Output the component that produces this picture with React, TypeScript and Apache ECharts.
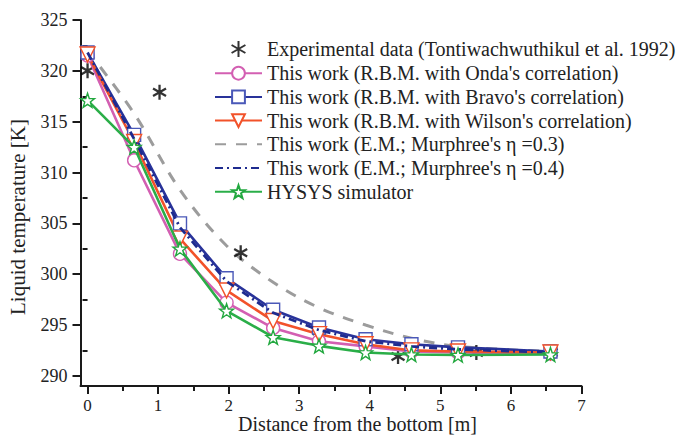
import React, { useEffect, useRef } from "react";
import * as echarts from "echarts";

const xPos = [0, 0.66, 1.31, 1.97, 2.63, 3.28, 3.94, 4.59, 5.25, 6.56];
const onda = [321.5, 311.2, 302.0, 297.2, 294.7, 293.4, 292.9, 292.4, 292.3, 292.2];
const bravo = [321.8, 313.7, 305.0, 299.6, 296.5, 294.75, 293.6, 293.1, 292.8, 292.4];
const wilson = [321.6, 313.0, 303.5, 298.4, 295.4, 294.1, 293.1, 292.5, 292.4, 292.3];
const em03 = [322.0, 315.8, 308.3, 302.8, 299.2, 296.7, 295.0, 293.7, 292.9, 292.4];
const em04 = [321.8, 313.3, 304.6, 299.3, 296.2, 294.5, 293.4, 292.9, 292.6, 292.3];
const hysys = [317.1, 312.5, 302.5, 296.4, 293.8, 292.95, 292.3, 292.1, 292.05, 292.1];
const expX = [0, 1.02, 2.17, 3.28, 4.4, 5.51, 6.57];
const expY = [320, 317.9, 302.1, 294.4, 291.9, 292.3, 292.3];

const xTicks = [0, 1, 2, 3, 4, 5, 6, 7];
const xMinor = [0.5, 1.5, 2.5, 3.5, 4.5, 5.5, 6.5];
const yTicks = [290, 295, 300, 305, 310, 315, 320, 325];
const yMinor = [292.5, 297.5, 302.5, 307.5, 312.5, 317.5, 322.5];

const names = [
  "Experimental data (Tontiwachwuthikul et al. 1992)",
  "This work (R.B.M. with Onda's correlation)",
  "This work (R.B.M. with Bravo's correlation)",
  "This work (R.B.M. with Wilson's correlation)",
  "This work (E.M.; Murphree's \u03b7 =0.3)",
  "This work (E.M.; Murphree's \u03b7 =0.4)",
  "HYSYS simulator",
];

const FONT = "'Liberation Serif', 'Times New Roman', serif";
const ASTERISK = "path://M0,-10L0,10M-8.66,-5L8.66,5M-8.66,5L8.66,-5";
const STAR =
  "path://M0,-10L2.35,-3.24L9.51,-3.09L3.8,1.24L5.88,8.09L0,4.2L-5.88,8.09L-3.8,1.24L-9.51,-3.09L-2.35,-3.24Z";

const zip = (xs: number[], ys: number[]) => xs.map((x, i) => [x, ys[i]]);

export default function App() {
  const ref = useRef<HTMLDivElement>(null);
  useEffect(() => {
    if (!ref.current) return;
    const chart = echarts.init(ref.current, null, { renderer: "svg" });
    const axisColor = "#1a1a1a";
    const lineSeries = (
      name: string,
      ys: number[],
      color: string,
      symbol: string,
      markerColor: string,
      extra: any = {}
    ) => ({
      name,
      type: "line",
      data: zip(xPos, ys),
      symbol,
      symbolSize: 13,
      lineStyle: { color, width: 2.6 },
      itemStyle: { color: "#ffffff", borderColor: markerColor, borderWidth: 1.4 },
      z: 3,
      ...extra,
    });
    const noMarker = {
      symbol: "circle",
      showSymbol: false,
      itemStyle: { color: "rgba(0,0,0,0)", borderColor: "rgba(0,0,0,0)", borderWidth: 0 },
    };
    chart.setOption({
      animation: false,
      backgroundColor: "#ffffff",
      grid: { left: 80.5, right: 97.5, top: 20, bottom: 49, containLabel: false, outerBoundsMode: "none" },
      legend: {
        orient: "vertical",
        left: 214,
        top: 38.5,
        padding: 0,
        itemWidth: 47,
        itemHeight: 16,
        itemGap: 3.7,
        textStyle: { fontFamily: FONT, fontSize: 20, color: "#222" },
        data: names,
      },
      xAxis: [
        {
          type: "value",
          min: -0.1,
          max: 7,
          position: "bottom",
          axisLine: { show: true, onZero: false, lineStyle: { color: axisColor, width: 2 } },
          axisTick: { show: true, customValues: xTicks, length: 8, lineStyle: { color: axisColor, width: 2 } },
          axisLabel: { customValues: xTicks, fontFamily: FONT, fontSize: 17, color: "#222", margin: 10.5 },
          splitLine: { show: false },
          name: "Distance from the bottom [m]",
          nameLocation: "middle",
          nameGap: 28,
          nameMoveOverlap: false,
          nameTextStyle: { fontFamily: FONT, fontSize: 20, color: "#222", padding: [0, 0, 0, 53] },
        },
        {
          type: "value",
          min: -0.1,
          max: 7,
          position: "bottom",
          axisLine: { show: false },
          axisTick: { show: true, customValues: xMinor, length: 5, lineStyle: { color: axisColor, width: 2 } },
          axisLabel: { show: false },
          splitLine: { show: false },
        },
      ],
      yAxis: [
        {
          type: "value",
          min: 289,
          max: 325,
          position: "left",
          axisLine: { show: true, onZero: false, lineStyle: { color: axisColor, width: 2 } },
          axisTick: { show: true, customValues: yTicks, length: 8, lineStyle: { color: axisColor, width: 2 } },
          axisLabel: { customValues: yTicks, fontFamily: FONT, fontSize: 18, color: "#222", margin: 13 },
          splitLine: { show: false },
          name: "Liquid temperature [K]",
          nameLocation: "middle",
          nameGap: 52,
          nameTextStyle: { fontFamily: FONT, fontSize: 21, color: "#222", padding: [0, 28, 0, 0] },
        },
        {
          type: "value",
          min: 289,
          max: 325,
          position: "left",
          offset: 0,
          axisLine: { show: false },
          axisTick: { show: true, customValues: yMinor, length: 5, lineStyle: { color: axisColor, width: 2 } },
          axisLabel: { show: false },
          splitLine: { show: false },
        },
      ],
      series: [
        {
          name: names[0],
          type: "scatter",
          data: zip(expX, expY),
          symbol: ASTERISK,
          symbolSize: 15,
          symbolKeepAspect: true,
          itemStyle: { color: "none", borderColor: "#000000", borderWidth: 2.3 },
          z: 2,
        },
        lineSeries(names[1], onda, "#d35fb2", "circle", "#d35fb2"),
        lineSeries(names[2], bravo, "#29339a", "rect", "#4a58b8"),
        lineSeries(names[3], wilson, "#f2522a", "triangle", "#f2522a", { symbolRotate: 180, symbolSize: 15 }),
        lineSeries(names[4], em03, "#9c9c9c", "circle", "#9c9c9c", {
          ...noMarker,
          smooth: 0.35,
          lineStyle: { color: "#9c9c9c", width: 3, type: [11, 10] },
          z: 2,
        }),
        lineSeries(names[5], em04, "#1e2b8f", "circle", "#1e2b8f", {
          ...noMarker,
          lineStyle: { color: "#1e2b8f", width: 2.8, type: [8, 4, 2, 4] },
          z: 4,
        }),
        lineSeries(names[6], hysys, "#2aae48", STAR, "#22a83f", { symbolSize: 14, z: 5 }),
      ],
    });
    return () => chart.dispose();
  }, []);
  return <div ref={ref} style={{ width: 679, height: 435, position: "absolute", left: 0, top: 0 }} />;
}
